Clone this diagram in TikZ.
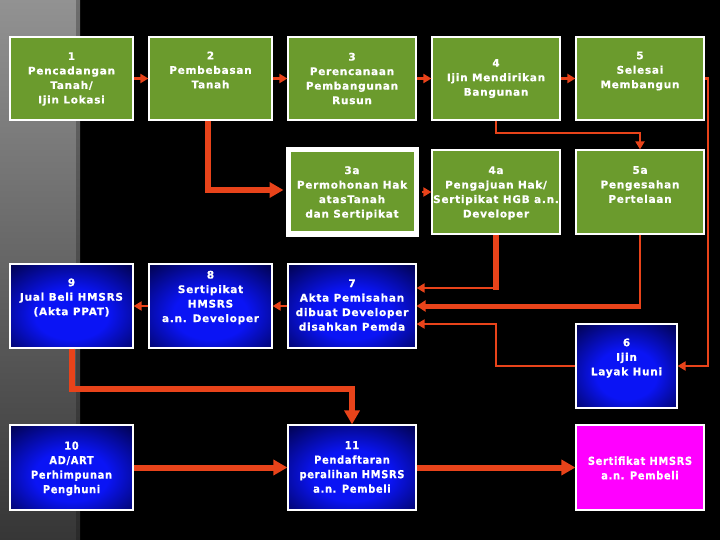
\documentclass[tikz,border=0pt]{standalone}
\usepackage{fontspec}
\usetikzlibrary{arrows.meta}
\newfontfamily\boxfont[LetterSpace=7, BoldFeatures={FakeBold=0.6}]{DejaVu Sans}
\newfontfamily\boxfontc[LetterSpace=6, BoldFeatures={FakeBold=0.6}]{DejaVu Sans Condensed}
\definecolor{boxgreen}{HTML}{6B9B2D}
\definecolor{bbright}{HTML}{0A14F5}
\definecolor{bbdark}{HTML}{00003C}
\definecolor{arrred}{HTML}{E8431A}
\definecolor{pinkbox}{HTML}{FF00FF}
\definecolor{stripTop}{HTML}{929292}
\definecolor{stripBot}{HTML}{363636}
\definecolor{bandTop}{HTML}{6E6E6E}
\definecolor{bandBot}{HTML}{2A2A2A}
\pgfdeclareradialshading{bluegrad}{\pgfpoint{0bp}{-6bp}}{color(0bp)=(bbright); color(15bp)=(bbright); color(40bp)=(bbdark); color(80bp)=(bbdark)}
\tikzset{
  box/.style={draw=white, line width=1.2pt, inner sep=0pt},
  gbox/.style={box, fill=boxgreen},
  bbox/.style={box, shading=bluegrad},
  pbox/.style={box, fill=pinkbox},
  txt/.style={text=white, align=center, inner sep=0pt, font=\boxfont\bfseries\fontsize{10.5}{14.5}\selectfont},
  txtc/.style={text=white, align=center, inner sep=0pt, font=\boxfontc\bfseries\fontsize{11}{14.5}\selectfont},
  thinarr/.style={draw=arrred, line width=2.6pt, -{Triangle[length=8pt,width=9pt]}},
  thinline/.style={draw=arrred, line width=2.6pt},
  thickarr/.style={draw=arrred, line width=6pt, -{Triangle[length=14pt,width=15pt]}},
  midarr/.style={draw=arrred, line width=5pt, -{Triangle[length=9pt,width=11pt]}},
  thickline/.style={draw=arrred, line width=6pt},
}
\begin{document}
\begin{tikzpicture}[x=1pt,y=-1pt]
\useasboundingbox (0,0) rectangle (720,540);
\fill[black] (0,0) rectangle (720,540);
\shade[top color=stripTop, bottom color=stripBot] (0,0) rectangle (76,540);
\shade[top color=bandTop, bottom color=bandBot] (76,0) rectangle (80,540);
% row 1
\node[gbox, minimum width=123pt, minimum height=83pt] (b1) at (71.5,78.5) {};
\node[gbox, minimum width=123pt, minimum height=83pt] (b2) at (210.5,78.5) {};
\node[gbox, minimum width=128pt, minimum height=83pt] (b3) at (352,78.5) {};
\node[gbox, minimum width=128pt, minimum height=83pt] (b4) at (496,78.5) {};
\node[gbox, minimum width=128pt, minimum height=83pt] (b5) at (640,78.5) {};
% row 2
\node[gbox, line width=5pt, minimum width=128pt, minimum height=84pt] (b3a) at (352.5,192) {};
\node[gbox, minimum width=128pt, minimum height=84pt] (b4a) at (496,192) {};
\node[gbox, minimum width=128pt, minimum height=84pt] (b5a) at (640,192) {};
% row 3
\node[bbox, minimum width=123pt, minimum height=84pt] (b9) at (71.5,306) {};
\node[bbox, minimum width=123pt, minimum height=84pt] (b8) at (210.5,306) {};
\node[bbox, minimum width=128pt, minimum height=84pt] (b7) at (352,306) {};
\node[bbox, minimum width=101pt, minimum height=84pt] (b6) at (626.5,366) {};
% row 4
\node[bbox, minimum width=123pt, minimum height=85pt] (b10) at (71.5,467.5) {};
\node[bbox, minimum width=128pt, minimum height=85pt] (b11) at (352,467.5) {};
\node[pbox, minimum width=128pt, minimum height=85pt] (bp) at (640,467.5) {};
% texts
\node[txt] (t1) at (71.5,79) {1\\Pencadangan\\Tanah/\\Ijin Lokasi};
\node[txt] (t2) at (210.5,70) {2\\Pembebasan\\Tanah};
\node[txt] (t3) at (352,78.5) {3\\Perencanaan\\Pembangunan\\Rusun};
\node[txt] (t4) at (496,78.5) {4\\Ijin Mendirikan\\Bangunan};
\node[txt] (t5) at (640,71) {5\\Selesai\\Membangun};
\node[txt] (t3a) at (352,193) {3a\\Permohonan Hak\\atasTanah\\dan Sertipikat};
\node[txt] (t4a) at (496,193) {4a\\Pengajuan Hak/\\Sertipikat HGB a.n.\\Developer};
\node[txt] (t5a) at (640,184.5) {5a\\Pengesahan\\Pertelaan};
\node[txt] (t9) at (71.5,297.5) {9\\Jual Beli HMSRS\\(Akta PPAT)};
\node[txt] (t8) at (210.5,297.5) {8\\Sertipikat\\HMSRS\\a.n. Developer};
\node[txt] (t7) at (352,305) {7\\Akta Pemisahan\\dibuat Developer\\disahkan Pemda};
\node[txt] (t6) at (626.5,358) {6\\Ijin\\Layak Huni};
\node[txtc] (t10) at (71.5,468.5) {10\\AD/ART\\Perhimpunan\\Penghuni};
\node[txtc] (t11) at (352,467) {11\\Pendaftaran\\peralihan HMSRS\\a.n. Pembeli};
\node[txtc] (tp) at (640,468) {Sertifikat HMSRS\\a.n. Pembeli};
% connectors row 1
\draw[thinarr] (b1) -- (b2);
\draw[thinarr] (b2) -- (b3);
\draw[thinarr] (b3) -- (b4);
\draw[thinarr] (b4) -- (b5);
% 2 -> 3a
\coordinate (k2) at (208,190);
\draw[thickline] ([xshift=-2.5pt]b2.south) -- ([yshift=-3pt]k2);
\draw[thickarr, shorten >=2.5pt] ([xshift=-3pt]k2) -- (k2 -| b3a.west);
% 3a -> 4a
\draw[thinarr, shorten <=2.5pt] (b3a.east) -- (b4a.west);
% 4 -> 5a
\coordinate (k4) at (496,133);
\draw[thinarr] (b4.south) -- (k4) -| (b5a.north);
% 5 -> 6
\coordinate (k5) at (708,78.5);
\draw[thinarr] (b5.east) -- (k5) |- (b6.east);
% 4a -> 7
\coordinate (k4a) at (496,288);
\draw[thickline] (b4a.south) -- ([yshift=-2pt]k4a);
\draw[thinarr] ([xshift=1.3pt]k4a) -- ([yshift=18pt]b7.east);
% 5a -> 7
\coordinate (k5a) at (640,306);
\draw[thinline] (b5a.south) -- ([yshift=-2pt]k5a);
\draw[midarr] ([xshift=1.3pt]k5a) -- (b7.east);
% 6 -> 7
\coordinate (k6) at (496,366);
\coordinate (k6b) at (496,324);
\draw[thinarr] (b6.west) -- (k6) -- (k6b) -- ([yshift=-18pt]b7.east);
% row 3 arrows
\draw[thinarr] (b7) -- (b8);
\draw[thinarr] (b8) -- (b9);
% 9 -> 11
\coordinate (k9) at (71.5,389);
\draw[thickarr] (b9.south) -- (k9) -| (b11.north);
% row 4 arrows
\draw[thickarr] (b10) -- (b11);
\draw[thickarr] (b11) -- (bp);
\end{tikzpicture}
\end{document}
